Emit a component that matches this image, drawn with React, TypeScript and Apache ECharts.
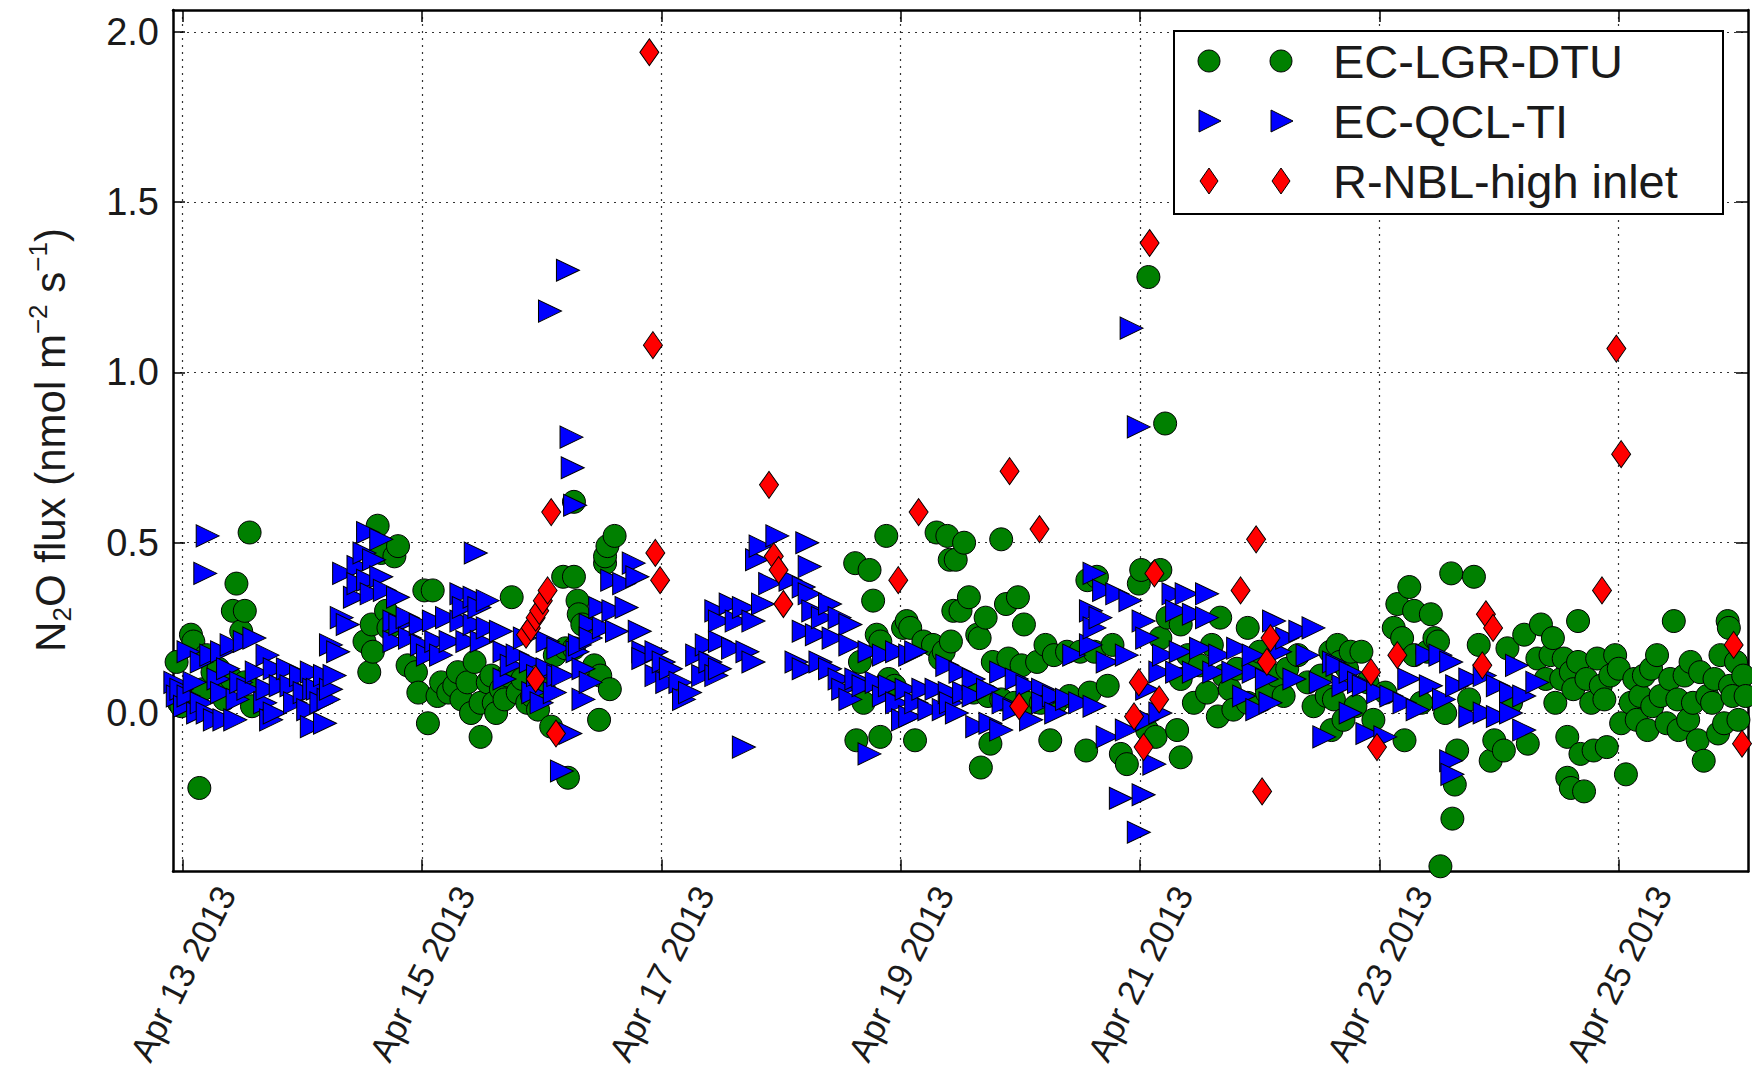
import React, { useEffect, useRef } from 'react';
import * as echarts from 'echarts';

// x values are days of April 2013 (decimal), y values are N2O flux
const xTickDays = [13, 15, 17, 19, 21, 23, 25];
const yTickValues = [0, 0.5, 1.0, 1.5, 2.0];
const seriesNames = ['EC-LGR-DTU', 'EC-QCL-TI', 'R-NBL-high inlet'];

const greenPts = [
  [12.95, 0.15], [12.97, 0.03], [12.99, 0.02], [13.02, 0.06], [13.07, 0.23], [13.09, 0.21], [13.14, -0.22], [13.17, 0.07],
  [13.2, 0.17], [13.25, 0.12], [13.3, 0.13], [13.35, 0.04], [13.38, 0.09], [13.41, 0.1], [13.42, 0.3], [13.45, 0.38],
  [13.49, 0.24], [13.52, 0.3], [13.52, 0.09], [13.56, 0.53], [13.58, 0.02],
  [14.52, 0.21], [14.56, 0.12], [14.58, 0.26], [14.59, 0.18], [14.63, 0.55], [14.66, 0.47], [14.7, 0.3], [14.72, 0.25],
  [14.77, 0.46], [14.8, 0.49], [14.88, 0.14], [14.95, 0.12], [14.97, 0.06], [15.02, 0.36], [15.05, -0.03], [15.09, 0.36],
  [15.13, 0.05], [15.16, 0.09], [15.22, 0.06], [15.27, 0.08], [15.3, 0.12], [15.33, 0.04], [15.38, 0.09], [15.41, 0.0],
  [15.44, 0.15], [15.49, 0.03], [15.49, -0.07], [15.55, 0.09], [15.58, 0.11], [15.6, 0.03], [15.62, 0.0], [15.66, 0.07],
  [15.69, 0.04], [15.72, 0.11], [15.75, 0.34], [15.8, 0.06], [15.84, 0.1], [15.88, 0.03], [15.92, 0.05], [15.97, 0.01],
  [16.02, 0.07], [16.08, -0.04], [16.11, 0.17], [16.18, 0.4], [16.2, 0.19], [16.22, -0.19],
  [16.27, 0.62], [16.27, 0.4], [16.27, 0.19], [16.3, 0.33], [16.31, 0.29], [16.34, 0.26], [16.44, 0.14], [16.48, -0.02],
  [16.49, 0.11], [16.53, 0.44], [16.53, 0.46], [16.55, 0.49], [16.57, 0.07], [16.61, 0.52],
  [18.62, 0.44], [18.63, -0.08], [18.66, 0.15], [18.69, 0.03], [18.74, 0.42], [18.77, 0.33], [18.8, 0.23], [18.83, 0.21],
  [18.83, -0.07], [18.88, 0.52], [18.9, 0.1], [18.95, 0.08], [19.02, 0.25], [19.05, 0.27], [19.08, 0.25], [19.12, -0.08],
  [19.19, 0.21], [19.27, 0.2], [19.3, 0.53], [19.33, 0.16], [19.36, 0.18], [19.41, 0.45], [19.44, 0.3],
  [19.39, 0.52], [19.42, 0.21], [19.46, 0.45], [19.5, 0.3], [19.53, 0.5], [19.57, 0.34], [19.61, 0.06], [19.64, 0.23],
  [19.66, 0.22], [19.67, -0.16], [19.71, 0.28], [19.73, 0.05], [19.75, -0.09], [19.77, 0.15], [19.84, 0.51], [19.84, 0.04],
  [19.88, 0.32], [19.9, 0.16], [19.95, 0.03], [19.98, 0.34], [20.01, 0.14], [20.03, 0.26], [20.06, 0.03], [20.14, 0.15],
  [20.17, 0.03], [20.21, 0.2], [20.25, -0.08], [20.28, 0.17], [20.3, 0.03], [20.39, 0.18], [20.41, 0.05], [20.5, 0.18],
  [20.55, -0.11], [20.56, 0.39], [20.58, 0.06], [20.62, 0.18], [20.64, 0.4], [20.73, 0.08], [20.77, 0.2], [20.84, -0.12],
  [20.89, -0.15],
  [20.99, 0.38], [21.01, 0.42], [21.06, -0.05], [21.07, 1.28], [21.13, -0.07], [21.17, 0.42], [21.17, 0.22], [21.21, 0.85],
  [21.23, 0.28], [21.31, -0.05], [21.34, 0.26], [21.34, -0.13], [21.34, 0.1], [21.4, 0.17], [21.45, 0.03], [21.5, 0.14],
  [21.56, 0.06], [21.6, 0.2], [21.65, -0.01], [21.67, 0.28], [21.7, 0.11], [21.75, 0.07], [21.78, 0.01], [21.81, 0.13],
  [21.9, 0.25], [21.9, 0.03], [21.95, 0.14], [22.0, 0.18], [22.06, 0.06], [22.14, 0.11], [22.2, 0.05], [22.23, 0.13],
  [22.32, 0.17], [22.4, 0.09], [22.45, 0.02], [22.51, 0.11], [22.56, 0.05], [22.59, 0.18], [22.6, -0.05], [22.62, 0.04],
  [22.65, 0.2], [22.67, 0.15], [22.7, -0.02], [22.73, 0.13],
  [22.76, 0.18], [22.8, 0.02], [22.85, 0.18], [22.9, 0.09], [22.95, -0.02], [23.05, 0.06], [23.12, 0.25], [23.15, 0.32],
  [23.19, 0.22], [23.21, -0.08], [23.25, 0.37], [23.29, 0.3], [23.29, 0.17], [23.35, 0.03], [23.4, 0.18], [23.43, 0.29],
  [23.46, 0.22], [23.49, 0.21], [23.51, -0.45], [23.55, 0.0], [23.6, 0.41], [23.61, -0.31], [23.63, -0.21], [23.65, -0.11],
  [23.75, 0.04], [23.79, 0.4], [23.83, 0.2], [23.93, -0.14], [23.96, -0.08], [24.04, -0.11], [24.07, 0.19], [24.1, 0.03],
  [24.21, 0.23], [24.24, -0.09],
  [24.32, 0.16], [24.35, 0.26], [24.39, 0.1], [24.43, 0.17], [24.45, 0.22], [24.47, 0.03], [24.52, 0.1], [24.54, 0.16],
  [24.57, -0.07], [24.57, -0.19], [24.6, -0.22], [24.6, 0.12], [24.62, 0.07], [24.66, 0.27], [24.66, 0.15], [24.68, -0.12],
  [24.71, -0.23], [24.73, 0.1], [24.77, 0.03], [24.79, -0.11], [24.82, 0.16], [24.85, 0.08], [24.88, 0.04], [24.9, -0.1],
  [24.93, 0.11], [24.97, 0.17], [25.0, 0.13], [25.02, -0.03], [25.06, -0.18], [25.1, 0.03], [25.13, 0.1], [25.15, -0.02],
  [25.18, 0.05], [25.21, 0.11], [25.24, -0.05], [25.27, 0.13], [25.28, 0.02], [25.32, 0.17], [25.35, 0.05], [25.4, -0.03],
  [25.43, 0.1], [25.46, 0.27], [25.49, 0.04], [25.5, -0.05], [25.55, 0.11], [25.58, -0.02], [25.6, 0.15], [25.62, 0.03],
  [25.66, -0.08], [25.68, 0.12], [25.71, -0.14], [25.74, 0.05], [25.78, 0.03], [25.8, 0.1], [25.83, -0.06], [25.85, 0.17],
  [25.88, -0.03], [25.91, 0.27], [25.92, 0.25], [25.93, 0.08], [25.95, 0.05], [25.98, 0.15], [26.0, -0.02], [26.04, 0.11],
  [26.06, 0.05],
];

const bluePts = [
  [12.94, 0.09], [12.96, 0.05], [12.99, 0.07], [13.02, 0.02], [13.05, 0.05], [13.05, 0.18], [13.1, 0.09], [13.13, 0.0],
  [13.16, 0.03], [13.16, 0.15], [13.19, 0.41], [13.21, 0.52], [13.21, 0.0], [13.24, 0.17], [13.27, -0.02], [13.3, 0.1],
  [13.33, 0.18], [13.33, 0.06], [13.35, -0.02], [13.38, 0.13], [13.41, 0.2], [13.44, -0.02], [13.46, 0.04], [13.49, 0.09],
  [13.52, 0.21], [13.55, 0.07], [13.6, 0.22], [13.62, 0.12], [13.69, 0.03], [13.71, 0.17], [13.71, 0.07], [13.74, -0.02],
  [13.77, 0.13], [13.77, 0.0], [13.82, 0.08], [13.88, 0.13], [13.91, 0.08], [13.94, 0.03], [13.99, 0.11], [14.02, 0.06],
  [14.05, 0.01], [14.08, 0.12], [14.08, -0.04], [14.1, 0.07], [14.13, 0.07], [14.16, 0.03], [14.19, 0.11], [14.19, -0.03],
  [14.22, 0.04], [14.24, 0.07], [14.27, 0.11],
  [14.24, 0.2], [14.3, 0.18], [14.33, 0.28], [14.35, 0.41], [14.38, 0.26], [14.44, 0.34], [14.47, 0.43], [14.47, 0.38],
  [14.52, 0.47], [14.55, 0.53], [14.55, 0.39], [14.58, 0.35], [14.6, 0.45], [14.66, 0.51], [14.66, 0.4], [14.69, 0.36],
  [14.77, 0.27], [14.77, 0.21], [14.8, 0.34], [14.82, 0.26], [14.88, 0.28], [14.9, 0.22], [14.99, 0.26], [15.0, 0.2],
  [15.05, 0.17], [15.1, 0.27], [15.12, 0.21], [15.16, 0.17], [15.21, 0.28], [15.24, 0.21], [15.33, 0.35], [15.33, 0.27],
  [15.35, 0.31], [15.38, 0.21], [15.44, 0.34], [15.45, 0.47], [15.44, 0.26], [15.48, 0.31], [15.5, 0.21], [15.55, 0.33],
  [15.55, 0.25], [15.66, 0.24], [15.69, 0.18], [15.69, 0.1], [15.75, 0.14], [15.8, 0.17], [15.86, 0.22], [15.91, 0.15],
  [15.93, 0.06], [15.97, 0.11], [16.0, 0.03], [16.05, 0.21], [16.05, 0.13], [16.07, 1.18], [16.11, 0.06], [16.14, 0.19],
  [16.14, 0.11], [16.17, -0.17], [16.18, 0.11], [16.22, 1.3], [16.24, -0.06], [16.25, 0.81], [16.26, 0.72], [16.28, 0.61],
  [16.3, 0.18], [16.32, 0.2], [16.35, 0.13], [16.35, 0.04], [16.41, 0.26], [16.41, 0.22], [16.41, 0.09], [16.49, 0.31],
  [16.52, 0.25], [16.59, 0.39], [16.6, 0.3], [16.63, 0.24], [16.69, 0.38], [16.71, 0.31], [16.77, 0.44], [16.8, 0.4],
  [16.82, 0.24], [16.85, 0.18], [16.85, 0.16], [16.96, 0.18], [16.96, 0.11],
  [17.02, 0.15], [17.05, 0.09], [17.08, 0.13], [17.16, 0.09], [17.19, 0.04], [17.24, 0.06], [17.3, 0.17], [17.35, 0.11],
  [17.38, 0.2], [17.41, 0.15], [17.46, 0.3], [17.46, 0.11], [17.49, 0.21], [17.49, 0.13], [17.49, 0.27], [17.58, 0.32],
  [17.6, 0.19], [17.63, 0.27], [17.69, 0.31], [17.69, -0.1], [17.72, 0.18], [17.77, 0.27], [17.77, 0.15], [17.8, 0.45],
  [17.83, 0.49], [17.85, 0.32], [17.91, 0.38], [17.97, 0.52],
  [18.08, 0.39], [18.13, 0.15], [18.19, 0.37], [18.19, 0.24], [18.19, 0.13], [18.22, 0.5], [18.24, 0.43], [18.24, 0.35],
  [18.27, 0.3], [18.3, 0.23], [18.33, 0.15], [18.35, 0.28], [18.41, 0.32], [18.41, 0.13], [18.44, 0.22], [18.49, 0.28],
  [18.49, 0.1], [18.52, 0.07], [18.58, 0.26], [18.58, 0.2], [18.58, 0.04], [18.63, 0.1], [18.69, 0.08], [18.74, 0.18],
  [18.74, -0.12], [18.8, 0.09], [18.86, 0.17], [18.86, 0.05], [18.91, 0.08], [18.97, 0.18], [18.97, 0.03], [19.02, -0.02],
  [19.05, 0.07], [19.08, 0.17], [19.08, -0.01], [19.13, 0.18], [19.13, 0.03], [19.19, 0.07], [19.24, 0.01], [19.3, 0.07],
  [19.36, 0.01], [19.41, 0.06],
  [19.39, 0.14], [19.42, 0.03], [19.47, 0.0], [19.5, 0.12], [19.53, 0.06], [19.61, 0.1], [19.61, 0.05], [19.64, -0.04],
  [19.73, 0.07], [19.75, -0.03], [19.84, 0.12], [19.86, 0.03], [19.84, -0.05], [19.95, 0.01], [19.97, 0.1], [20.06, 0.08],
  [20.09, -0.02], [20.19, 0.07], [20.19, 0.03], [20.28, 0.05], [20.3, 0.0], [20.39, 0.04], [20.45, 0.17], [20.5, 0.03],
  [20.59, 0.3], [20.59, 0.2], [20.62, 0.41], [20.62, 0.25], [20.62, 0.02], [20.67, 0.28], [20.7, 0.36], [20.73, 0.15],
  [20.73, -0.07], [20.81, 0.35], [20.84, -0.25], [20.89, 0.17], [20.89, -0.05], [20.92, 0.33], [20.93, 1.13], [20.99, 0.84],
  [20.99, -0.35], [21.03, 0.27], [21.03, -0.24],
  [21.06, 0.22], [21.06, 0.07], [21.06, -0.02], [21.12, -0.15], [21.17, 0.12], [21.17, 0.0], [21.2, 0.17], [21.28, 0.35],
  [21.31, 0.3], [21.31, 0.12], [21.34, 0.18], [21.39, 0.35], [21.45, 0.29], [21.45, 0.12], [21.51, 0.19], [21.56, 0.35],
  [21.56, 0.28], [21.62, 0.12], [21.67, 0.17], [21.78, 0.12], [21.82, 0.19], [21.87, 0.05], [21.95, 0.12], [21.95, 0.17],
  [21.98, 0.01], [22.06, 0.1], [22.09, 0.03], [22.12, 0.27], [22.17, 0.18], [22.23, 0.22], [22.29, 0.1], [22.34, 0.24],
  [22.4, 0.17], [22.45, 0.25], [22.51, 0.09], [22.54, -0.07], [22.62, 0.15], [22.7, 0.08],
  [22.65, 0.14], [22.76, 0.12], [22.76, 0.0], [22.83, 0.09], [22.87, 0.08], [22.9, -0.06], [22.99, 0.06], [23.05, -0.07],
  [23.1, 0.05], [23.21, 0.03], [23.25, 0.1], [23.32, 0.01], [23.4, 0.17], [23.43, 0.08], [23.51, 0.17], [23.54, 0.04],
  [23.6, 0.15], [23.6, -0.14], [23.61, -0.18], [23.65, 0.08], [23.76, 0.1], [23.76, -0.01], [23.88, 0.11], [23.88, 0.0],
  [23.99, 0.08], [23.99, -0.01], [24.1, 0.06], [24.1, 0.0], [24.15, 0.14], [24.21, 0.05], [24.21, -0.05], [24.32, 0.09],
];

const redPts = [
  [15.87, 0.23], [15.91, 0.25], [15.95, 0.28], [15.98, 0.3], [16.01, 0.33], [16.05, 0.36], [15.95, 0.1], [16.08, 0.59],
  [16.12, -0.06], [16.9, 1.94], [16.93, 1.08], [16.95, 0.47], [16.99, 0.39], [17.9, 0.67], [17.94, 0.46], [17.98, 0.42],
  [18.02, 0.32], [18.98, 0.39], [19.15, 0.59], [19.91, 0.71], [20.16, 0.54], [19.99, 0.02], [20.99, 0.09], [20.95, -0.01],
  [21.03, -0.1], [21.16, 0.04], [21.12, 0.41], [21.08, 1.38], [21.84, 0.36], [21.97, 0.51], [22.09, 0.22], [22.06, 0.15],
  [22.02, -0.23], [22.93, 0.12], [22.98, -0.1], [23.15, 0.17], [23.86, 0.14], [23.89, 0.29], [23.95, 0.25], [24.86, 0.36],
  [24.98, 1.07], [25.02, 0.76], [25.96, 0.2], [26.03, -0.09],
];

const FONT = '"Liberation Sans", Arial, Helvetica, sans-serif';
const TEXT_COLOR = '#1a1a1a';
const GREEN = '#008000';
const BLUE = '#0000ff';
const RED = '#ff0000';

export default function App() {
  const ref = useRef<HTMLDivElement>(null);

  useEffect(() => {
    const chart = echarts.init(ref.current as HTMLDivElement, null, { renderer: 'svg' });
    const xMin = 12.92, xMax = 26.08, yMin = -0.465, yMax = 2.064;
    const frameLine = { show: true, onZero: false, lineStyle: { color: '#000', width: 2.5 } };
    const gridLine = { show: true, lineStyle: { color: '#333', width: 1.2, type: [2, 5] } };

    // legend drawn as graphic (two markers per row like the original)
    const lgX = 1174, lgY = 31, lgW = 549, lgH = 183;
    const rowY = [61, 121, 181];
    const mx = [1209, 1281];
    const textX = 1333;
    const legendEls: any[] = [
      { type: 'rect', z: 100, shape: { x: lgX, y: lgY, width: lgW, height: lgH }, style: { fill: '#fff', stroke: '#000', lineWidth: 2 } },
    ];
    const mk = { stroke: '#000', lineWidth: 1 };
    mx.forEach((x) => {
      legendEls.push({ type: 'circle', z: 101, shape: { cx: x, cy: rowY[0], r: 11 }, style: { fill: GREEN, ...mk } });
      legendEls.push({ type: 'polygon', z: 101, shape: { points: [[x - 10, rowY[1] - 11], [x + 12, rowY[1]], [x - 10, rowY[1] + 11]] }, style: { fill: BLUE, ...mk } });
      legendEls.push({ type: 'polygon', z: 101, shape: { points: [[x, rowY[2] - 13], [x + 9, rowY[2]], [x, rowY[2] + 13], [x - 9, rowY[2]]] }, style: { fill: RED, ...mk } });
    });
    seriesNames.forEach((name, i) => {
      legendEls.push({ type: 'text', z: 101, x: textX, y: rowY[i], style: { text: name, fontSize: 47, fontFamily: FONT, fill: TEXT_COLOR, verticalAlign: 'middle', align: 'left' } });
    });

    const option: any = {
      animation: false,
      backgroundColor: '#fff',
      grid: { left: 173, right: 4, top: 10, bottom: 194, containLabel: false },
      xAxis: [
        {
          type: 'value', min: xMin, max: xMax, position: 'bottom',
          axisLine: frameLine,
          axisTick: { show: true, inside: true, length: 12, customValues: xTickDays, lineStyle: { color: '#000', width: 1.5 } },
          axisLabel: {
            show: true, customValues: xTickDays, formatter: (v: number) => `Apr ${v} 2013`,
            rotate: 63, align: 'center', verticalAlign: 'middle', margin: 102,
            fontSize: 35, fontFamily: FONT, color: TEXT_COLOR,
          },
          splitLine: gridLine,
        },
        {
          type: 'value', min: xMin, max: xMax, position: 'top',
          axisLine: frameLine,
          axisTick: { show: true, inside: true, length: 12, customValues: xTickDays, lineStyle: { color: '#000', width: 1.5 } },
          axisLabel: { show: false },
          splitLine: { show: false },
        },
      ],
      yAxis: [
        {
          type: 'value', min: yMin, max: yMax, position: 'left',
          axisLine: frameLine,
          axisTick: { show: true, inside: true, length: 12, customValues: yTickValues, lineStyle: { color: '#000', width: 1.5 } },
          axisLabel: {
            show: true, customValues: yTickValues, formatter: (v: number) => v.toFixed(1),
            margin: 14, fontSize: 38, fontFamily: FONT, color: TEXT_COLOR,
          },
          splitLine: gridLine,
        },
        {
          type: 'value', min: yMin, max: yMax, position: 'right',
          axisLine: frameLine,
          axisTick: { show: true, inside: true, length: 12, customValues: yTickValues, lineStyle: { color: '#000', width: 1.5 } },
          axisLabel: { show: false },
          splitLine: { show: false },
        },
      ],
      series: [
        {
          name: seriesNames[0], type: 'scatter', xAxisIndex: 0, yAxisIndex: 0, data: greenPts,
          symbol: 'circle', symbolSize: 23,
          itemStyle: { color: GREEN, borderColor: '#000', borderWidth: 1, opacity: 1 },
        },
        {
          name: seriesNames[1], type: 'scatter', xAxisIndex: 0, yAxisIndex: 0, data: bluePts,
          symbol: 'triangle', symbolSize: [22, 23], symbolRotate: -90,
          itemStyle: { color: BLUE, borderColor: '#000', borderWidth: 1, opacity: 1 },
        },
        {
          name: seriesNames[2], type: 'scatter', xAxisIndex: 0, yAxisIndex: 0, data: redPts,
          symbol: 'diamond', symbolSize: [19, 27],
          itemStyle: { color: RED, borderColor: '#000', borderWidth: 1, opacity: 1 },
        },
      ],
      graphic: [
        {
          type: 'text', x: 50, y: 440, rotation: Math.PI / 2, z: 100,
          style: {
            text: 'N{sub|2}O flux (nmol m{sup|−2} s{sup|−1})',
            fontSize: 42, fontFamily: FONT, fill: TEXT_COLOR, align: 'center', verticalAlign: 'middle', lineHeight: 50,
            rich: {
              sub: { fontSize: 26, fontFamily: FONT, fill: TEXT_COLOR, lineHeight: 20, verticalAlign: 'bottom' },
              sup: { fontSize: 26, fontFamily: FONT, fill: TEXT_COLOR, lineHeight: 26, verticalAlign: 'top' },
            },
          },
        },
        ...legendEls,
      ],
    };
    chart.setOption(option);
    return () => chart.dispose();
  }, []);

  return (
    <div
      ref={ref}
      style={{ position: 'fixed', left: 0, top: 0, width: 1752, height: 1069, background: '#fff' }}
    />
  );
}
